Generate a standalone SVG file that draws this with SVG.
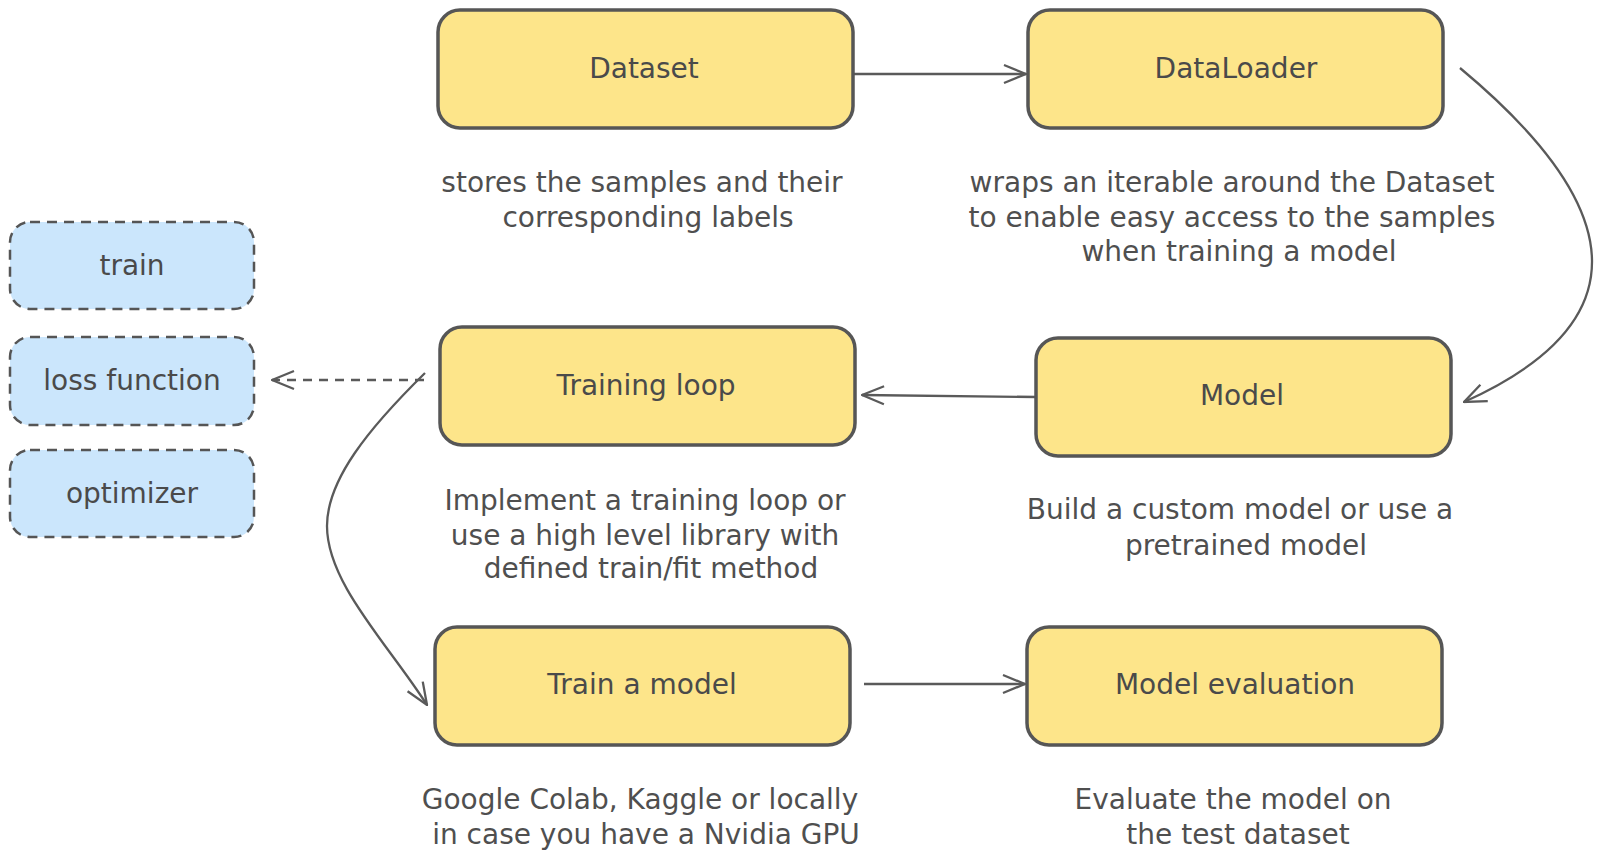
<svg xmlns="http://www.w3.org/2000/svg" width="1603" height="862" viewBox="0 0 1603 862">
<defs>
<style>
.box{fill:#fde58a;stroke:#565656;stroke-width:3.5}
.tool{fill:#cbe6fc;stroke:#555;stroke-width:2.5;stroke-dasharray:10 7}
.lbl{font-family:"DejaVu Sans","Liberation Sans",sans-serif;font-size:28px;fill:#4a4a4a;text-anchor:middle;dominant-baseline:central}
.desc{font-family:"DejaVu Sans","Liberation Sans",sans-serif;font-size:28px;fill:#4f4f4f;text-anchor:middle;dominant-baseline:central}
.edge{fill:none;stroke:#5a5a5a;stroke-width:2.3}
.dash{stroke-dasharray:9 7}
</style>
<marker id="arr" viewBox="0 0 24 22" refX="23" refY="11" markerWidth="24" markerHeight="22" markerUnits="userSpaceOnUse" orient="auto">
<path d="M1,2 L23,11 L1,20" fill="none" stroke="#5a5a5a" stroke-width="2.3"/>
</marker>
</defs>
<rect width="1603" height="862" fill="#ffffff"/>

<g id="connectors">
<path class="edge" d="M853,74 L1026,74" marker-end="url(#arr)"/>
<path class="edge" d="M1460,68 Q1722,286 1464,402" marker-end="url(#arr)"/>
<path class="edge" d="M1037,397 L862,395" marker-end="url(#arr)"/>
<path class="edge dash" d="M424,380 L272,380" marker-end="url(#arr)"/>
<path class="edge" d="M425,373 C368,429 327,480 327,526 C327,583 388,644 427,705" marker-end="url(#arr)"/>
<path class="edge" d="M864,684 L1025,684" marker-end="url(#arr)"/>
</g>

<g id="node-dataset">
<rect class="box" x="438" y="10" width="415" height="118" rx="22"/>
<text class="lbl" x="644" y="68">Dataset</text>
</g>
<g id="node-dataloader">
<rect class="box" x="1028" y="10" width="415" height="118" rx="22"/>
<text class="lbl" x="1236" y="68">DataLoader</text>
</g>
<g id="node-training-loop">
<rect class="box" x="440" y="327" width="415" height="118" rx="22"/>
<text class="lbl" x="646" y="385">Training loop</text>
</g>
<g id="node-model">
<rect class="box" x="1036" y="338" width="415" height="118" rx="22"/>
<text class="lbl" x="1242" y="395">Model</text>
</g>
<g id="node-train-model">
<rect class="box" x="435" y="627" width="415" height="118" rx="22"/>
<text class="lbl" x="642" y="684">Train a model</text>
</g>
<g id="node-model-evaluation">
<rect class="box" x="1027" y="627" width="415" height="118" rx="22"/>
<text class="lbl" x="1235" y="684">Model evaluation</text>
</g>

<g id="node-train">
<rect class="tool" x="10" y="222" width="244" height="87" rx="20"/>
<text class="lbl" x="132" y="265">train</text>
</g>
<g id="node-loss">
<rect class="tool" x="10" y="337" width="244" height="88" rx="20"/>
<text class="lbl" x="132" y="380">loss function</text>
</g>
<g id="node-optimizer">
<rect class="tool" x="10" y="450" width="244" height="87" rx="20"/>
<text class="lbl" x="132" y="493">optimizer</text>
</g>

<g id="desc-dataset">
<text class="desc" x="642" y="182">stores the samples and their</text>
<text class="desc" x="648" y="217">corresponding labels</text>
</g>
<g id="desc-dataloader">
<text class="desc" x="1232" y="182">wraps an iterable around the Dataset</text>
<text class="desc" x="1232" y="217">to enable easy access to the samples</text>
<text class="desc" x="1239" y="251">when training a model</text>
</g>
<g id="desc-training-loop">
<text class="desc" x="645" y="500">Implement a training loop or</text>
<text class="desc" x="645" y="535">use a high level library with</text>
<text class="desc" x="651" y="568">defined train/fit method</text>
</g>
<g id="desc-model">
<text class="desc" x="1240" y="509">Build a custom model or use a</text>
<text class="desc" x="1246" y="545">pretrained model</text>
</g>
<g id="desc-train-model">
<text class="desc" x="640" y="799">Google Colab, Kaggle or locally</text>
<text class="desc" x="646" y="834">in case you have a Nvidia GPU</text>
</g>
<g id="desc-model-evaluation">
<text class="desc" x="1233" y="799">Evaluate the model on</text>
<text class="desc" x="1238" y="834">the test dataset</text>
</g>
</svg>
